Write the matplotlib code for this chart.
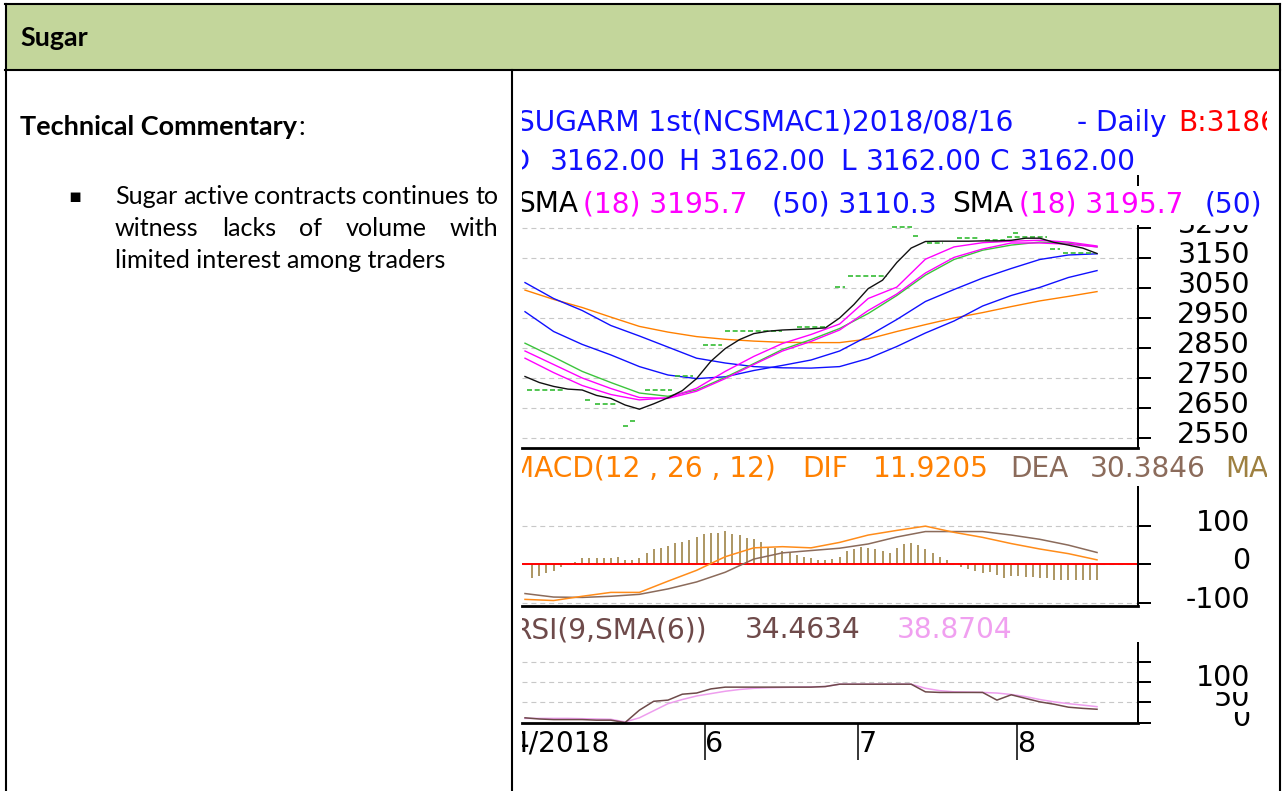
import matplotlib
matplotlib.use("Agg")
import matplotlib.pyplot as plt
from matplotlib.patches import Rectangle
from matplotlib.transforms import Bbox, ScaledTranslation

# ---------------- values ----------------
# x is the trading-day index, 0 = first bar at the left edge of the crop
day1 = list(range(0, 81))
day2 = list(range(0, 81, 2))
day4 = list(range(0, 81, 4))

close = [2755, 2735, 2722, 2713, 2710, 2692, 2682, 2660, 2646, 2664, 2684,
         2708, 2748, 2806, 2848, 2878, 2898, 2906, 2910, 2912, 2914, 2917,
         2950, 2995, 3048, 3076, 3135, 3183, 3205, 3206, 3206, 3206, 3207,
         3207, 3209, 3216, 3216, 3202, 3193, 3183, 3165]

sma_pink_fast = [2816, 2768, 2725, 2695, 2677, 2684, 2716, 2772, 2822, 2865, 2895,
                 2930, 3015, 3053, 3146, 3187, 3201, 3206, 3209, 3203, 3190]
sma_pink_slow = [2840, 2795, 2750, 2715, 2685, 2682, 2706, 2748, 2795, 2840, 2872,
                 2910, 2975, 3030, 3100, 3152, 3180, 3200, 3200, 3196, 3187]
sma_green = [2866, 2820, 2772, 2735, 2700, 2689, 2710, 2752, 2798, 2845, 2878,
             2915, 2965, 3025, 3093, 3145, 3176, 3193, 3203, 3199, 3187]
sma_blue_fast = [2971, 2905, 2862, 2827, 2788, 2760, 2748, 2754, 2775, 2792, 2810,
                 2840, 2890, 2945, 3005, 3045, 3083, 3115, 3145, 3160, 3164]
sma_blue_slow = [3068, 3015, 2975, 2925, 2890, 2853, 2816, 2800, 2788, 2784, 2783,
                 2788, 2815, 2855, 2900, 2940, 2990, 3025, 3052, 3085, 3108]
sma_orange = [3043, 3012, 2985, 2953, 2922, 2903, 2888, 2879, 2873, 2869, 2868,
              2868, 2880, 2905, 2928, 2950, 2968, 2988, 3007, 3022, 3038]

# green dashed price steps: start day, end day, level
step_from = [0.3, 8.4, 9.8, 13.7, 14.7, 16.8, 21.0, 24.9, 28.0, 38.0, 43.4,
             45.2, 51.3, 54.3, 56.2, 60.4, 64.3, 67.4, 68.3, 73.4, 75.2]
step_to = [5.6, 9.4, 13.0, 14.4, 15.5, 20.6, 23.5, 27.6, 35.9, 42.4, 44.8,
           50.6, 54.1, 55.0, 58.5, 63.6, 67.1, 73.0, 69.2, 74.8, 79.7]
step_level = [2710, 2677, 2663, 2590, 2608, 2710, 2757, 2860, 2908, 2921, 3053,
              3090, 3252, 3223, 3201, 3217, 3210, 3220, 3234, 3181, 3168]

dif = [-90, -93, -82, -72, -72, -43, -15, 20, 43, 46, 43,
       57, 76, 88, 99, 83, 70, 54, 40, 28, 12]
dea = [-75, -84, -85, -82, -77, -63, -45, -20, 14, 30, 36,
       42, 53, 71, 85, 85, 85, 76, 65, 50, 31]
macd_bar = [0, -35, -30, -22, -16, -7, 0,
            7, 16, 16, 16, 16, 16, 20, 11, 11, 16,
            30, 39, 43, 49, 55, 59, 63, 72, 78, 82,
            82, 87, 78, 75, 69, 67, 58, 46, 43, 35,
            32, 24, 20, 16, 11, 11, 14, 20, 35, 41,
            46, 43, 39, 35, 30, 43, 52, 55, 50, 39,
            30, 20, 11, 0,
            -7, -11, -17, -22, -20, -26, -35, -30, -30, -32,
            -32, -35, -36, -39, -39, -39, -39, -39, -39, -39]

rsi = [20, 18, 17, 17, 17, 16, 16, 12, 33, 48, 50, 60, 62, 69, 72, 72, 72,
       72, 72, 72, 72, 73, 77, 77, 77, 77, 77, 77, 64, 63, 63, 63, 63, 50,
       59, 53, 47, 43, 38, 36, 34.5]
rsi_avg = [19, 19, 19, 19, 18.5, 18, 17.5, 13, 20, 32, 44, 51, 57, 61, 65, 68,
           70, 71, 71.5, 72, 72.5, 73, 77, 77, 77, 77, 77, 77, 70, 66, 64, 63.5,
           63, 62, 59.5, 56, 51, 47, 44, 41.5, 38.9]

price_ticks = [2550, 2650, 2750, 2850, 2950, 3050, 3150, 3250]
macd_ticks = [-100, 0, 100]
macd_labels = ["-100", "0", "100"]
rsi_ticks = [11.2, 46.8, 80.7, 114.6]
rsi_labels = ["", "0", "50", "100"]
month_pos = [25.2, 46.6, 68.8]
month_lab = ["6", "7", "8"]

# ---------------- figure ----------------
W, H = 1282, 791
fig = plt.figure(figsize=(W / 100, H / 100), dpi=100)
fig.patch.set_facecolor("white")
renderer = fig.canvas.get_renderer()
CHART_FONT = "DejaVu Sans"
FS = 20.5      # axis labels
ROW_FS = 20.2  # header rows of the chart


def box(x0, y0, x1, y1):
    # pixel box with top-left origin -> figure fraction
    return [x0 / W, 1 - y1 / H, (x1 - x0) / W, (y1 - y0) / H]


def shift_labels(ax, down_px, white=False):
    off = ScaledTranslation(0, -down_px / 100, fig.dpi_scale_trans)
    for t in ax.yaxis.get_major_ticks():
        t.label2.set_ha("right")
        t.label2.set_va("baseline")
        t.label2.set_transform(t.label2.get_transform() + off)
        if white:
            t.label2.set_bbox(dict(facecolor="white", edgecolor="none", pad=0))


px = fig.add_axes(box(522, 176, 1138, 448))
mx = fig.add_axes(box(522, 487, 1138, 606))
rx = fig.add_axes(box(522, 643, 1138, 723))

for ax in (px, mx, rx):
    ax.set_xlim(-0.42, 85.73)
    ax.spines["left"].set_visible(False)
    ax.spines["top"].set_visible(False)
    ax.spines["right"].set_linewidth(1.44)
    ax.spines["bottom"].set_linewidth(2.0)
    ax.yaxis.tick_right()
    ax.tick_params(axis="y", direction="out", length=9.4, width=1.44, pad=71.3,
                   labelsize=FS, labelfontfamily=CHART_FONT)
    ax.grid(axis="y", color="#c8c8c8", lw=0.8, ls=(0, (4.5, 3.5)))
    ax.set_axisbelow(True)

# price panel
px.set_ylim(2516.7, 3423.3)
px.set_yticks(price_ticks, [str(v) for v in price_ticks])
px.set_xticks([])
px.plot(day4, sma_orange, color="#ff8000", lw=1.0)
px.plot(day4, sma_blue_slow, color="#1010ff", lw=1.0)
px.plot(day4, sma_blue_fast, color="#1010ff", lw=1.0)
px.plot(day4, sma_green, color="#3cc43c", lw=1.0)
px.plot(day4, sma_pink_slow, color="#ff00ff", lw=1.0)
px.plot(day4, sma_pink_fast, color="#ff00ff", lw=1.0)
px.hlines(step_level, step_from, step_to, colors="#33bb33", lw=1.2,
          linestyles=(0, (3, 1.6)))
px.plot(day2, close, color="#111111", lw=1.0)
shift_labels(px, 5)

# MACD panel
mx.set_ylim(-107.1, 200)
mx.set_yticks(macd_ticks, macd_labels)
mx.set_xticks([])
mx.vlines(day1, 0, macd_bar, colors="#9e8448", lw=1.2)
mx.axhline(0, color="#ff0000", lw=1.4)
mx.plot(day4, dea, color="#8b6b5b", lw=1.1)
mx.plot(day4, dif, color="#ff8c1a", lw=1.1)
shift_labels(mx, 5)

# RSI panel
rx.set_ylim(11.2, 146.8)
rx.set_yticks(rsi_ticks, rsi_labels)
rx.plot(day2, rsi_avg, color="#ee9eee", lw=1.1)
rx.plot(day2, rsi, color="#6e4a4a", lw=1.1)
rx.set_xticks(month_pos, month_lab)
rx.tick_params(axis="x", direction="out", length=26.6, width=1.1, pad=-5.8,
               labelsize=FS, labelfontfamily=CHART_FONT)
for t in rx.xaxis.get_major_ticks():
    t.label1.set_ha("left")
    t.label1.set_va("baseline")
shift_labels(rx, 24.5, white=True)

# ---------------- page frame and texts ----------------
doc = fig.add_axes([0, 0, 1, 1])
doc.set_xlim(0, W)
doc.set_ylim(H, 0)
doc.axis("off")
doc.set_zorder(5)

doc.add_patch(Rectangle((6, 4), 1273, 66, facecolor="#c3d69b", edgecolor="none"))
for xs, ys in [([5, 1280], [4, 4]), ([5, 1280], [70, 70]), ([6, 6], [4, 791]),
               ([1279.5, 1279.5], [4, 791]), ([512, 512], [70, 791])]:
    doc.plot(xs, ys, color="black", lw=1.5, clip_on=False)


def fit(t, width):
    w = t.get_window_extent(renderer).width
    t.set_fontsize(t.get_fontsize() * width / w)


t = doc.text(20.5, 46, "Sugar", fontfamily="Lato", fontweight="bold",
             fontsize=18, va="baseline")
fit(t, 68)
t = doc.text(20.5, 135, "Technical Commentary", fontfamily="Lato",
             fontweight="bold", fontsize=18, va="baseline")
fit(t, 278)
ext = t.get_window_extent(renderer)
doc.text(ext.x1 + 1, 135, ":", fontfamily="Lato", fontsize=t.get_fontsize(),
         va="baseline")

body = doc.text(115, 268, "limited interest among traders", fontfamily="Lato",
                fontsize=18, va="baseline")
fit(body, 330)
body_fs = body.get_fontsize()


def justify(words, x0, x1, y):
    arts = [doc.text(x0, y, w, fontfamily="Lato", fontsize=body_fs,
                     va="baseline") for w in words]
    widths = [a.get_window_extent(renderer).width for a in arts]
    gap = (x1 - x0 - sum(widths)) / (len(words) - 1)
    x = x0
    for a, w in zip(arts, widths):
        a.set_x(x)
        x += w + gap


justify("Sugar active contracts continues to".split(), 115, 498, 204)
justify("witness lacks of volume with".split(), 115, 498, 236)
doc.text(75, 197, "\u25aa", fontfamily="DejaVu Sans", fontsize=14,
         ha="center", va="center")

# chart header rows (clipped like the screenshot crop)
CLIP = Bbox.from_extents(522, 0, 1267, 696)


def chart_text(x, y, s, color):
    tt = doc.text(x, y, s, color=color, fontsize=ROW_FS, fontfamily=CHART_FONT,
                  va="baseline", zorder=3)
    tt.set_clip_box(CLIP)
    tt.set_clip_on(True)


doc.add_patch(Rectangle((522, 186), 745, 39, facecolor="white",
                        edgecolor="none", zorder=2))

BLUE, RED, PINK = "#1010ff", "#ff0000", "#ff00ff"
rows = [
    (131, [("SUGARM 1st(NCSMAC1)2018/08/16", 517, BLUE), ("- Daily", 1077, BLUE),
           ("B:3186", 1178, RED)]),
    (170, [("O", 507, BLUE), ("3162.00", 550, BLUE), ("H", 678, BLUE),
           ("3162.00", 710, BLUE), ("L", 840, BLUE), ("3162.00", 866, BLUE),
           ("C", 989, BLUE), ("3162.00", 1020, BLUE)]),
    (212, [("SMA", 517, "black"), ("(18) 3195.7", 583, PINK),
           ("(50) 3110.3", 772, BLUE), ("SMA", 952, "black"),
           ("(18) 3195.7", 1019, PINK), ("(50)", 1205, BLUE)]),
    (477, [("MACD(12 , 26 , 12)", 510, "#ff8000"), ("DIF", 802, "#ff8000"),
           ("11.9205", 873, "#ff8000"), ("DEA", 1010, "#8b6b5b"),
           ("30.3846", 1090, "#8b6b5b"), ("MA", 1225, "#9e8040")]),
    (638, [("RSI(9,SMA(6))", 512, "#6e4a4a"), ("34.4634", 745, "#6e4a4a"),
           ("38.8704", 897, "#f0a0f0")]),
    (752, [("4/2018", 512, "black")]),
]
for y, parts in rows:
    for s, x, c in parts:
        chart_text(x, y, s, c)

fig.savefig("out.png", dpi=100, facecolor="white")
